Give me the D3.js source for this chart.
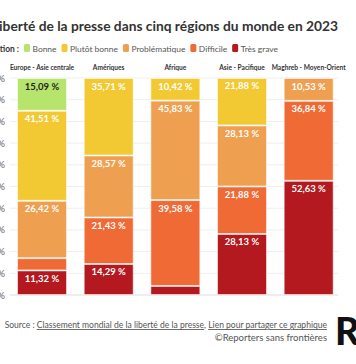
<!DOCTYPE html>
<html><head><meta charset="utf-8">
<script src="https://cdn.jsdelivr.net/npm/d3@7"></script>
<style>
html,body{margin:0;padding:0;background:#fff;overflow:hidden}
text{font-family:"Source Sans Pro","Lato","Noto Sans",sans-serif}
</style></head>
<body><svg id="c" width="356" height="364"></svg>
<script>
const regions = ["Europe - Asie centrale","Amériques","Afrique","Asie - Pacifique","Maghreb - Moyen-Orient"];
const situations = ["Bonne","Plutôt bonne","Problématique","Difficile","Très grave"];
const bonne        = [15.09, 0,     0,     0,     0];
const plutotBonne  = [41.51, 35.71, 10.42, 21.88, 0];
const problematique= [26.42, 28.57, 45.83, 28.13, 10.53];
const difficile    = [5.66,  21.43, 39.58, 21.88, 36.84];
const tresGrave    = [11.32, 14.29, 4.17,  28.13, 52.63];
const yTicks = [0,10,20,30,40,50,60,70,80,90,100];
const colors = ["#b7e46c","#f2c932","#eea050","#f06a36","#b3191e"];
const seriesVals = [bonne, plutotBonne, problematique, difficile, tresGrave];

const svg = d3.select("#c");
const rows = regions.map((r,i)=>{const o={region:r}; situations.forEach((s,j)=>o[s]=seriesVals[j][i]); return o;});
const stackKeys = situations.slice().reverse();
const stack = d3.stack().keys(stackKeys).order(d3.stackOrderNone)(rows);

const x = d3.scaleBand().domain(regions).range([8.7,342]).paddingInner(0.25).paddingOuter(0.125);
const y = d3.scaleLinear().domain([0,100]).range([295,78]);

// title
const title = svg.append("text").attr("x",338).attr("y",31).attr("text-anchor","end")
  .attr("font-weight","bold").attr("fill","#333").attr("font-size",17)
  .text("La liberté de la presse dans cinq régions du monde en 2023");
{const w = title.node().getComputedTextLength(); const target = 360; title.attr("font-size", 17*target/w);}

// legend
const lg = svg.append("g");
let lfs = 10.5;
{const tmp = svg.append("text").attr("font-size",10.5).text("Plutôt bonne"); lfs = 10.5*48/tmp.node().getComputedTextLength(); tmp.remove();}
let lx = 0;
const lab0 = lg.append("text").attr("x",0).attr("y",52).attr("font-size",lfs).attr("font-weight","bold").attr("fill","#333").text("Situation :");
lx = lab0.node().getComputedTextLength() + 5;
situations.forEach((s,i)=>{
  lg.append("rect").attr("x",lx).attr("y",44).attr("width",6).attr("height",8).attr("rx",1.5).attr("fill",colors[i]);
  const t = lg.append("text").attr("x",lx+8.5).attr("y",51.5).attr("font-size",lfs).attr("fill","#555").text(s);
  lx += 8.5 + t.node().getComputedTextLength() + 5;
});
lg.attr("transform",`translate(${278 - (lx-5)},0)`);

// grid + y labels
const grid = svg.append("g");
yTicks.forEach(t=>{
  grid.append("line").attr("x1",10).attr("x2",338).attr("y1",y(t)).attr("y2",y(t))
    .attr("stroke", t===0 ? "#ddd" : "#eee").attr("stroke-width",1);
  grid.append("text").attr("x",5).attr("y",y(t)+3.5).attr("text-anchor","end").attr("font-size",10).attr("fill","#666").text(t+" %");
});

// column headers
let hfs = 9;
{const tmp = svg.append("text").attr("font-size",9).attr("font-weight","bold").text(regions[4]); hfs = 9*74/tmp.node().getComputedTextLength(); tmp.remove();}
svg.append("g").selectAll("text").data(regions).join("text")
  .attr("x",d=>x(d)+x.bandwidth()/2).attr("y",70).attr("text-anchor","middle")
  .attr("font-size",hfs).attr("font-weight","bold").attr("fill","#333").text(d=>d);

// bars
const fmt = v => d3.format(".2f")(v).replace(".",",")+" %";
stack.forEach(ser=>{
  const si = situations.indexOf(ser.key);
  const g = svg.append("g");
  ser.forEach((d,i)=>{
    const v = d[1]-d[0];
    if(v<=0) return;
    g.append("rect").attr("x",x(regions[i])+0.5).attr("y",y(d[1])+0.5)
      .attr("width",x.bandwidth()-1).attr("height",Math.max(0,y(d[0])-y(d[1])-1))
      .attr("fill",colors[si]).attr("stroke","#fff").attr("stroke-opacity",0.55).attr("stroke-width",1);
    if(v>=10){
      g.append("text").attr("x",x(regions[i])+x.bandwidth()/2).attr("y",y(d[1])+11.5)
        .attr("text-anchor","middle").attr("font-size",9.5).attr("font-weight","bold")
        .attr("fill", si===0 ? "#222" : "#fff").text(fmt(v));
    }
  });
});

// footer
const f1 = svg.append("text").attr("x",327).attr("y",328).attr("text-anchor","end").attr("font-size",9.5).attr("fill","#555");
f1.append("tspan").text("Source : ");
f1.append("tspan").attr("text-decoration","underline").text("Classement mondial de la liberté de la presse");
f1.append("tspan").text(", ");
f1.append("tspan").attr("text-decoration","underline").text("Lien pour partager ce graphique");
{const w=f1.node().getComputedTextLength(); const target=323; if(w>target) f1.attr("font-size",9.5*target/w);}
svg.append("text").attr("x",327).attr("y",341).attr("text-anchor","end").attr("font-size",9.5).attr("fill","#555").text("©Reporters sans frontières");
svg.append("text").attr("x",335).attr("y",345).attr("font-size",38).attr("font-weight","900").attr("fill","#111")
  .attr("font-family","'DejaVu Sans Condensed','Liberation Sans Narrow',sans-serif").text("RSF");
</script></body></html>
